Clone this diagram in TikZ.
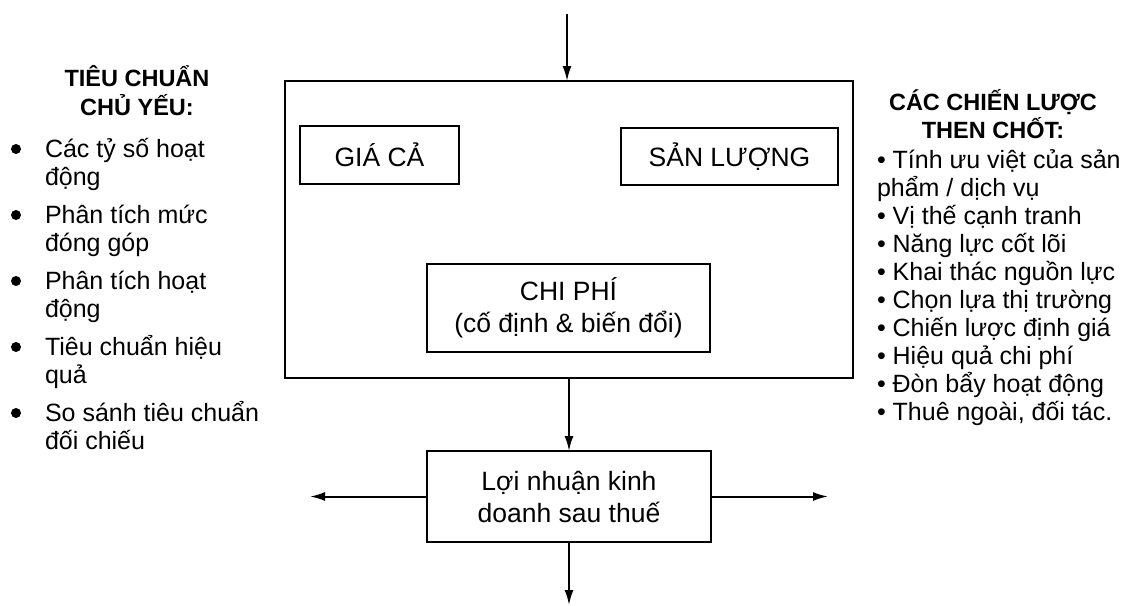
\documentclass[tikz,border=0pt]{standalone}
\usepackage{fontspec}
\setmainfont{Liberation Sans}
\usetikzlibrary{arrows.meta}
\begin{document}
\begin{tikzpicture}[x=1pt,y=-1pt,
  every node/.style={inner sep=0pt, outer sep=0pt},
  frame/.style={draw, line width=2pt},
  boxtxt/.style={font=\fontsize{26.5}{32}\selectfont},
  item/.style={font=\fontsize{25}{28}\selectfont, anchor=base west},
  heading/.style={font=\bfseries\fontsize{23.5}{28}\selectfont, anchor=base},
  flow/.style={line width=2pt, -{Latex[length=15pt,width=9pt]}},
  dot/.style={circle, fill, minimum size=10pt},
]
\useasboundingbox (0,0) rectangle (1129,605);
\fill[white] (0,0) rectangle (1129,605);

% central frame with the three inner boxes
\node[frame, minimum width=568pt, minimum height=297pt] (core) at (569,229.5) {};
\node[frame, boxtxt, minimum width=159pt, minimum height=58pt] (price) at (379.5,155) {GIÁ CẢ};
\node[frame, boxtxt, minimum width=217pt, minimum height=57pt] (volume) at (729.5,156.5) {SẢN LƯỢNG};
\node[frame, boxtxt, align=center, minimum width=283pt, minimum height=88pt] (cost) at (568.5,308)
  {CHI PHÍ\\(cố định \& biến đổi)};

% result box
\node[frame, boxtxt, align=center, minimum width=284pt, minimum height=91pt] (profit) at (569,496.5)
  {Lợi nhuận kinh\\doanh sau thuế};

% connectors
\coordinate (in) at (567,14);
\coordinate (outL) at (310,496.5);
\coordinate (outR) at (828,496.5);
\coordinate (outB) at (569,605);
\draw[flow] (in) -- (core.north -| in);
\draw[flow] (core.south -| profit.north) -- (profit.north);
\draw[flow] (profit.west) -- (outL);
\draw[flow] (profit.east) -- (outR);
\draw[flow] (profit.south) -- (outB);

% left column: key standards
\node[heading] (lh1) at (137,86) {TIÊU CHUẨN};
\node[heading] (lh2) at (137,115) {CHỦ YẾU:};
\foreach \y/\a/\b [count=\i] in {157/Các tỷ số hoạt/động,
                                 223/Phân tích mức/đóng góp,
                                 289/Phân tích hoạt/động,
                                 355/Tiêu chuẩn hiệu/quả,
                                 421/So sánh tiêu chuẩn/đối chiếu}{
  \node[dot] (lb\i) at (16,\y-8) {};
  \node[item] (la\i) at (45,\y) {\a};
  \node[item] (lc\i) at (45,\y+28) {\b};
}

% right column: key strategies
\node[heading] (rh1) at (993,110) {CÁC CHIẾN LƯỢC};
\node[heading] (rh2) at (993,138) {THEN CHỐT:};
\foreach \t [count=\i] in {• Tính ưu việt của sản, phẩm / dịch vụ, • Vị thế cạnh tranh,
    • Năng lực cốt lõi, • Khai thác nguồn lực, • Chọn lựa thị trường,
    • Chiến lược định giá, • Hiệu quả chi phí, • Đòn bẩy hoạt động,
    • Thuê ngoài{,} đối tác.}{
  \node[item] (r\i) at (877,{168+28*(\i-1)}) {\t};
}
\end{tikzpicture}
\end{document}
